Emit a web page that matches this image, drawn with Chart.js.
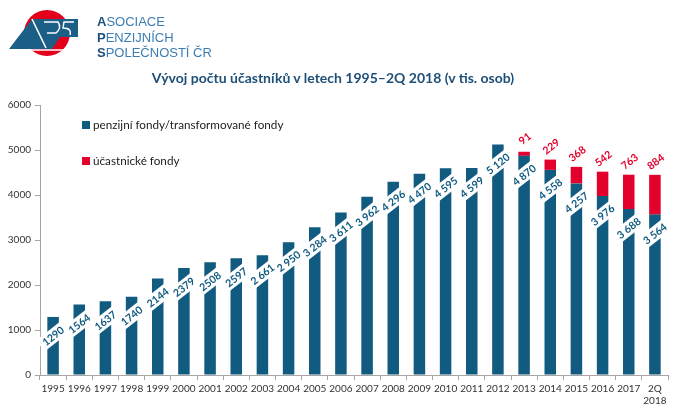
<!DOCTYPE html>
<html>
<head>
<meta charset="utf-8">
<script src="https://cdn.jsdelivr.net/npm/chart.js@4.4.1/dist/chart.umd.min.js"></script>
<style>
  html, body { margin: 0; padding: 0; background: #fff; }
  #wrap { position: relative; width: 680px; height: 415px; overflow: hidden; }
  #chart { position: absolute; left: 0; top: 0; }
  .logo-text { position: absolute; left: 97px; top: 14px; font-family: "Liberation Sans", Arial, sans-serif;
    font-size: 13px; line-height: 15.5px; color: #3a7db4; }
  .logo-text b { color: #1c4f7c; }
  #title { position: absolute; left: 0; width: 666px; top: 69px; text-align: center;
    font-family: Lato, sans-serif; font-weight: bold; font-size: 14px; color: #1d4f78; }
  .leg { position: absolute; left: 82px; font-family: Lato, sans-serif; font-size: 11.7px; color: #222; }
  .leg i { display: inline-block; width: 8px; height: 8px; margin-right: 3px; vertical-align: 0px; }
</style>
</head>
<body>
<div id="wrap">
  <canvas id="chart" width="680" height="415"></canvas>
  <svg style="position:absolute;left:0;top:0" width="90" height="60">
    <circle cx="47" cy="33" r="23" fill="#e2001a"/>
    <polygon points="9,49 32,19 78,19 78,37 60,37 52,49" fill="#1b5f86"/>
    <line x1="32" y1="19" x2="46" y2="48" stroke="#fff" stroke-width="1.6"/>
    <path d="M44,22 L58,22 Q62,28 56,33 L47,33" stroke="#fff" stroke-width="1.4" fill="none"/>
    <path d="M74,22 L64,22 L63,28 Q72,28 70,35" stroke="#fff" stroke-width="1.4" fill="none"/>
    <line x1="18" y1="50" x2="76" y2="50" stroke="#fff" stroke-width="1.5"/>
  </svg>
  <div class="logo-text"><b>A</b>SOCIACE<br><b>P</b>ENZIJNÍCH<br><b>S</b>POLEČNOSTÍ ČR</div>
  <div id="title">Vývoj počtu účastníků v letech 1995–2Q 2018 (v tis. osob)</div>
  <div class="leg" style="top:117px"><i style="background:#115b80"></i>penzijní fondy/transformované fondy</div>
  <div class="leg" style="top:153px"><i style="background:#e3002c"></i>účastnické fondy</div>
</div>
<script>
const years = ['1995', '1996', '1997', '1998', '1999', '2000', '2001', '2002', '2003', '2004', '2005', '2006',
  '2007', '2008', '2009', '2010', '2011', '2012', '2013', '2014', '2015', '2016', '2017', ['2Q', '2018']];
const pensionFunds = [1290, 1564, 1637, 1740, 2144, 2379, 2508, 2597, 2661, 2950, 3284, 3611,
  3962, 4296, 4470, 4595, 4599, 5120, 4870, 4558, 4257, 3976, 3688, 3564];
const pensionLabels = ['1290', '1564', '1637', '1740', '2144', '2379', '2508', '2597', '2 661', '2 950', '3 284', '3 611',
  '3 962', '4 296', '4 470', '4 595', '4 599', '5 120', '4 870', '4 558', '4 257', '3 976', '3 688', '3 564'];
const participantFunds = [null, null, null, null, null, null, null, null, null, null, null, null,
  null, null, null, null, null, null, 91, 229, 368, 542, 763, 884];

const BLUE = '#115b80';
const RED = '#e3002c';
const ANGLE = -38 * Math.PI / 180;

// rotated value labels (blue with white band, red above the stack)
const barLabels = {
  id: 'barLabels',
  afterDatasetsDraw(chart) {
    const c = chart.ctx;
    const blue = chart.getDatasetMeta(0).data;
    c.save();
    c.font = 'bold 10.5px Lato, sans-serif';
    c.textAlign = 'center';
    c.textBaseline = 'middle';
    // white bands first, then the texts so no band hides a neighbour
    [0, 1].forEach(pass => {
      blue.forEach((bar, i) => {
        const txt = pensionLabels[i];
        const w = c.measureText(txt).width + 8;
        c.save();
        c.translate(bar.x, bar.y + 19);
        c.rotate(ANGLE);
        if (pass === 0) {
          c.fillStyle = '#fff';
          c.fillRect(-w / 2, -7, w, 14);
        } else {
          c.fillStyle = BLUE;
          c.fillText(txt, 0, 0.5);
        }
        c.restore();
      });
    });
    chart.getDatasetMeta(1).data.forEach((bar, i) => {
      const v = participantFunds[i];
      if (v == null) return;
      c.save();
      c.translate(bar.x + 1, bar.y - 13);
      c.rotate(ANGLE);
      c.fillStyle = RED;
      c.fillText(String(v), 0, 0);
      c.restore();
    });
    c.restore();
  }
};

new Chart(document.getElementById('chart'), {
  type: 'bar',
  data: {
    labels: years,
    datasets: [{
      label: 'penzijní fondy/transformované fondy',
      data: pensionFunds,
      backgroundColor: BLUE,
      barPercentage: 0.44,
      categoryPercentage: 1
    }, {
      label: 'účastnické fondy',
      data: participantFunds,
      backgroundColor: RED,
      barPercentage: 0.44,
      categoryPercentage: 1
    }]
  },
  options: {
    responsive: false,
    animation: false,
    layout: { padding: { top: 105, right: 12, left: 0, bottom: 0 } },
    plugins: {
      legend: { display: false },
      tooltip: { enabled: false }
    },
    scales: {
      x: {
        stacked: true,
        afterFit: s => { s.height = 40; },
        grid: { offset: true, drawOnChartArea: false, tickLength: 5, color: '#a6a6a6' },
        border: { color: '#a6a6a6' },
        ticks: { color: '#333', font: { family: 'Lato', size: 10 }, maxRotation: 0, autoSkip: false, padding: 3 }
      },
      y: {
        stacked: true,
        min: 0,
        max: 6000,
        afterFit: s => { s.width = 40; },
        grid: { drawOnChartArea: false, tickLength: 5, color: '#a6a6a6' },
        border: { color: '#a6a6a6' },
        ticks: { stepSize: 1000, color: '#333', font: { family: 'Lato', size: 10 }, padding: 4,
          callback: v => String(v) }
      }
    }
  },
  plugins: [barLabels]
});
</script>
</body>
</html>
